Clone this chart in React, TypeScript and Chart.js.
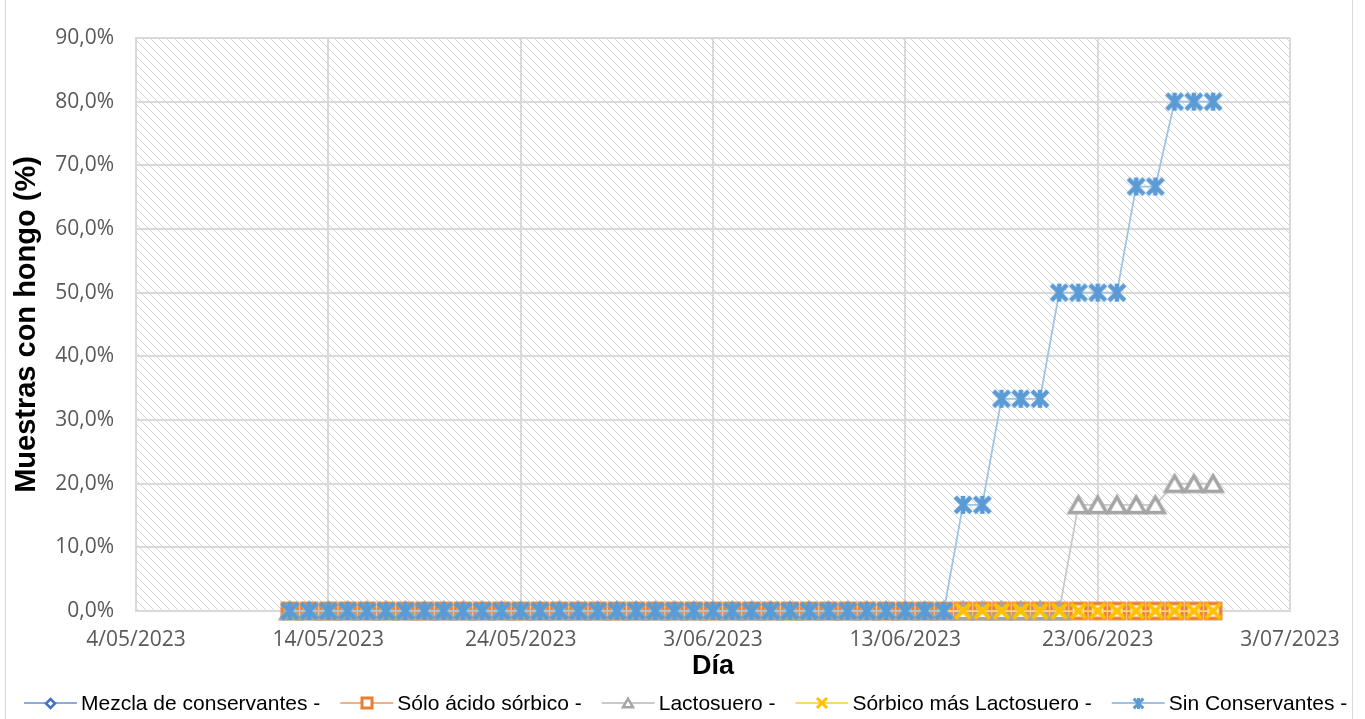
import { useEffect, useRef } from "react";
import { Chart, registerables } from "chart.js";

Chart.register(...registerables);

// Observation days (one reading per day)
const dates = [
  "12/05/2023", "13/05/2023", "14/05/2023", "15/05/2023", "16/05/2023", "17/05/2023", "18/05/2023",
  "19/05/2023", "20/05/2023", "21/05/2023", "22/05/2023", "23/05/2023", "24/05/2023", "25/05/2023",
  "26/05/2023", "27/05/2023", "28/05/2023", "29/05/2023", "30/05/2023", "31/05/2023", "1/06/2023",
  "2/06/2023", "3/06/2023", "4/06/2023", "5/06/2023", "6/06/2023", "7/06/2023", "8/06/2023",
  "9/06/2023", "10/06/2023", "11/06/2023", "12/06/2023", "13/06/2023", "14/06/2023", "15/06/2023",
  "16/06/2023", "17/06/2023", "18/06/2023", "19/06/2023", "20/06/2023", "21/06/2023", "22/06/2023",
  "23/06/2023", "24/06/2023", "25/06/2023", "26/06/2023", "27/06/2023", "28/06/2023", "29/06/2023",
];

// Percentage of samples with mould per treatment
const mezclaConservantes = [
  0, 0, 0, 0, 0, 0, 0, 0, 0, 0, 0, 0, 0, 0, 0, 0, 0, 0, 0, 0, 0, 0, 0, 0, 0,
  0, 0, 0, 0, 0, 0, 0, 0, 0, 0, 0, 0, 0, 0, 0, 0, 0, 0, 0, 0, 0, 0, 0, 0,
];
const soloAcidoSorbico = [
  0, 0, 0, 0, 0, 0, 0, 0, 0, 0, 0, 0, 0, 0, 0, 0, 0, 0, 0, 0, 0, 0, 0, 0, 0,
  0, 0, 0, 0, 0, 0, 0, 0, 0, 0, 0, 0, 0, 0, 0, 0, 0, 0, 0, 0, 0, 0, 0, 0,
];
const lactosuero = [
  0, 0, 0, 0, 0, 0, 0, 0, 0, 0, 0, 0, 0, 0, 0, 0, 0, 0, 0, 0, 0, 0, 0, 0, 0,
  0, 0, 0, 0, 0, 0, 0, 0, 0, 0, 0, 0, 0, 0, 0, 0, 16.67, 16.67, 16.67, 16.67, 16.67, 20, 20, 20,
];
const sorbicoMasLactosuero = [
  0, 0, 0, 0, 0, 0, 0, 0, 0, 0, 0, 0, 0, 0, 0, 0, 0, 0, 0, 0, 0, 0, 0, 0, 0,
  0, 0, 0, 0, 0, 0, 0, 0, 0, 0, 0, 0, 0, 0, 0, 0, 0, 0, 0, 0, 0, 0, 0, 0,
];
const sinConservantes = [
  0, 0, 0, 0, 0, 0, 0, 0, 0, 0, 0, 0, 0, 0, 0, 0, 0, 0, 0, 0, 0, 0, 0, 0, 0,
  0, 0, 0, 0, 0, 0, 0, 0, 0, 0, 16.67, 16.67, 33.33, 33.33, 33.33, 50, 50, 50, 50, 66.67, 66.67, 80, 80, 80,
];

const seriesLabels = [
  "Mezcla de conservantes -",
  "Sólo ácido sórbico -",
  "Lactosuero -",
  "Sórbico más Lactosuero -",
  "Sin Conservantes -",
];

// Axis range (days counted from the first axis date)
const axisStart = "4/05/2023";
const axisEnd = "3/07/2023";
const dayStep = 10;
const yMax = 90;
const yStep = 10;

const DAY_MS = 86400000;
function parseDate(s: string): number {
  const [d, m, y] = s.split("/").map(Number);
  return Date.UTC(y, m - 1, d);
}
const startMs = parseDate(axisStart);
const toDay = (s: string) => Math.round((parseDate(s) - startMs) / DAY_MS);
function formatDay(v: number): string {
  const dt = new Date(startMs + v * DAY_MS);
  const d = dt.getUTCDate();
  const m = String(dt.getUTCMonth() + 1).padStart(2, "0");
  return `${d}/${m}/${dt.getUTCFullYear()}`;
}

type Kind = "diamond" | "square" | "triangle" | "x" | "star";

function markerCanvas(kind: Kind, color: string, size: number, lw: number): HTMLCanvasElement {
  const pad = Math.ceil(lw) + 1;
  const dim = Math.ceil(size) + pad * 2;
  const c = document.createElement("canvas");
  c.width = dim;
  c.height = dim;
  const ctx = c.getContext("2d")!;
  const m = dim / 2;
  const h = size / 2;
  ctx.strokeStyle = color;
  ctx.fillStyle = "#ffffff";
  ctx.lineWidth = lw;
  ctx.lineJoin = "miter";
  ctx.beginPath();
  if (kind === "diamond") {
    ctx.moveTo(m, m - h);
    ctx.lineTo(m + h, m);
    ctx.lineTo(m, m + h);
    ctx.lineTo(m - h, m);
    ctx.closePath();
    ctx.fill();
    ctx.stroke();
  } else if (kind === "square") {
    ctx.rect(m - h, m - h, size, size);
    ctx.fill();
    ctx.stroke();
  } else if (kind === "triangle") {
    const th = size * 0.87;
    ctx.moveTo(m, m - th / 2);
    ctx.lineTo(m + h, m + th / 2);
    ctx.lineTo(m - h, m + th / 2);
    ctx.closePath();
    ctx.fill();
    ctx.stroke();
  } else if (kind === "x") {
    ctx.moveTo(m - h, m - h);
    ctx.lineTo(m + h, m + h);
    ctx.moveTo(m + h, m - h);
    ctx.lineTo(m - h, m + h);
    ctx.stroke();
  } else {
    const k = h * 0.88;
    ctx.moveTo(m - k, m - k);
    ctx.lineTo(m + k, m + k);
    ctx.moveTo(m + k, m - k);
    ctx.lineTo(m - k, m + k);
    ctx.moveTo(m, m - h);
    ctx.lineTo(m, m + h);
    ctx.stroke();
  }
  return c;
}

const styles: { kind: Kind; marker: string; line: string; size: number; lw: number; lsize: number; llw: number }[] = [
  { kind: "diamond", marker: "#4472C4", line: "#8FAADC", size: 14, lw: 2.5, lsize: 9, llw: 2.5 },
  { kind: "square", marker: "#ED7D31", line: "#F4B183", size: 15, lw: 3.5, lsize: 10, llw: 3 },
  { kind: "triangle", marker: "#A5A5A5", line: "#C9C9C9", size: 18, lw: 3.5, lsize: 10, llw: 2.5 },
  { kind: "x", marker: "#FFC000", line: "#FFD966", size: 15, lw: 4, lsize: 10, llw: 3 },
  { kind: "star", marker: "#5B9BD5", line: "#9DC3E6", size: 18, lw: 4.5, lsize: 11, llw: 3 },
];

const seriesValues = [mezclaConservantes, soloAcidoSorbico, lactosuero, sorbicoMasLactosuero, sinConservantes];

function hatchPattern(ctx: CanvasRenderingContext2D): CanvasPattern | string {
  const tile = document.createElement("canvas");
  tile.width = 8;
  tile.height = 8;
  const t = tile.getContext("2d")!;
  t.fillStyle = "#ffffff";
  t.fillRect(0, 0, 8, 8);
  for (let i = 0; i < 8; i++) {
    t.fillStyle = "#d6d6d6";
    t.fillRect(i, i, 1, 1);
  }
  return ctx.createPattern(tile, "repeat") || "#ffffff";
}

const backgroundPlugin = {
  id: "plotBackground",
  beforeDraw(chart: any) {
    const { ctx, chartArea } = chart;
    ctx.save();
    ctx.fillStyle = "#ffffff";
    ctx.fillRect(0, 0, chart.width, chart.height);
    ctx.fillStyle = hatchPattern(ctx);
    ctx.fillRect(chartArea.left, chartArea.top, chartArea.right - chartArea.left, chartArea.bottom - chartArea.top);
    ctx.restore();
  },
  afterDraw(chart: any) {
    const { ctx } = chart;
    ctx.save();
    // frame of the chart object
    ctx.strokeStyle = "#d9d9d9";
    ctx.lineWidth = 1;
    ctx.beginPath();
    ctx.moveTo(5.5, 0);
    ctx.lineTo(5.5, chart.height);
    ctx.moveTo(1352.5, 0);
    ctx.lineTo(1352.5, chart.height);
    ctx.stroke();
    ctx.restore();
  },
};

const legendPlugin = {
  id: "lineMarkerLegend",
  afterDraw(chart: any) {
    const { ctx } = chart;
    const lineLen = 53;
    const textGap = 4;
    const itemGap = 20;
    const y = 703;
    ctx.save();
    ctx.font = "21px 'Liberation Sans', Arial, sans-serif";
    ctx.textBaseline = "middle";
    ctx.textAlign = "left";
    const widths = seriesLabels.map((l) => lineLen + textGap + ctx.measureText(l).width);
    const total = widths.reduce((a, b) => a + b, 0) + itemGap * (widths.length - 1);
    let x = Math.round(686 - total / 2);
    seriesLabels.forEach((label, i) => {
      const st = styles[i];
      ctx.strokeStyle = st.line;
      ctx.lineWidth = 2;
      ctx.beginPath();
      ctx.moveTo(x, y);
      ctx.lineTo(x + lineLen, y);
      ctx.stroke();
      const mk = markerCanvas(st.kind, st.marker, st.lsize, st.llw);
      ctx.drawImage(mk, Math.round(x + lineLen / 2 - mk.width / 2), Math.round(y - mk.height / 2));
      ctx.fillStyle = "#000000";
      ctx.fillText(label, x + lineLen + textGap, y + 1);
      x += widths[i] + itemGap;
    });
    ctx.restore();
  },
};

export default function App() {
  const canvasRef = useRef<HTMLCanvasElement | null>(null);

  useEffect(() => {
    document.body.style.margin = "0";
    const canvas = canvasRef.current;
    if (!canvas) return;

    const datasets = seriesLabels.map((label, i) => {
      const st = styles[i];
      const marker = markerCanvas(st.kind, st.marker, st.size, st.lw);
      return {
        label,
        data: seriesValues[i].map((v, j) => ({ x: toDay(dates[j]), y: v })),
        borderColor: st.line,
        backgroundColor: st.marker,
        borderWidth: 1.75,
        pointStyle: marker,
        pointRadius: 9,
        pointHoverRadius: 9,
        tension: 0,
        clip: false as any,
        order: seriesLabels.length - i,
      };
    });

    const tickFont = { family: "'Open Sans', sans-serif", size: 21 };
    const yTitleFont = { family: "'Liberation Sans', Arial, sans-serif", size: 29, weight: "bold" as const };
    const xTitleFont = { family: "'Liberation Sans', Arial, sans-serif", size: 27, weight: "bold" as const };

    const chart = new Chart(canvas, {
      type: "line",
      data: { datasets },
      options: {
        responsive: false,
        animation: false,
        events: [],
        layout: { padding: { top: 38, right: 75, bottom: 33, left: 0 } },
        plugins: {
          legend: { display: false },
          tooltip: { enabled: false },
        },
        scales: {
          x: {
            type: "linear",
            min: 0,
            max: toDay(axisEnd),
            afterFit: (scale: any) => {
              scale.height = 75;
            },
            ticks: {
              stepSize: dayStep,
              color: "#595959",
              font: tickFont,
              padding: 16,
              maxRotation: 0,
              autoSkip: false,
              callback: (v: any) => formatDay(Number(v)),
            },
            grid: { color: "#d9d9d9", lineWidth: 2, drawTicks: false },
            border: { display: true, color: "#d9d9d9", width: 2 },
            title: {
              display: true,
              text: "Día",
              color: "#000000",
              font: xTitleFont,
              padding: { top: 0, bottom: 3 },
            },
          },
          y: {
            type: "linear",
            min: 0,
            max: yMax,
            afterFit: (scale: any) => {
              scale.width = 136;
            },
            ticks: {
              stepSize: yStep,
              color: "#595959",
              font: tickFont,
              padding: 22,
              callback: (v: any) => Number(v).toFixed(1).replace(".", ",") + "%",
            },
            grid: { color: "#d9d9d9", lineWidth: 2, drawTicks: false },
            border: { display: true, color: "#d9d9d9", width: 2 },
            title: {
              display: true,
              text: "Muestras con hongo (%)",
              color: "#000000",
              font: yTitleFont,
              padding: { top: 10, bottom: 0 },
            },
          },
        },
      },
      plugins: [backgroundPlugin, legendPlugin],
    });

    return () => chart.destroy();
  }, []);

  return (
    <div style={{ width: 1365, height: 719 }}>
      <canvas ref={canvasRef} width={1365} height={719} style={{ display: "block" }} />
    </div>
  );
}
